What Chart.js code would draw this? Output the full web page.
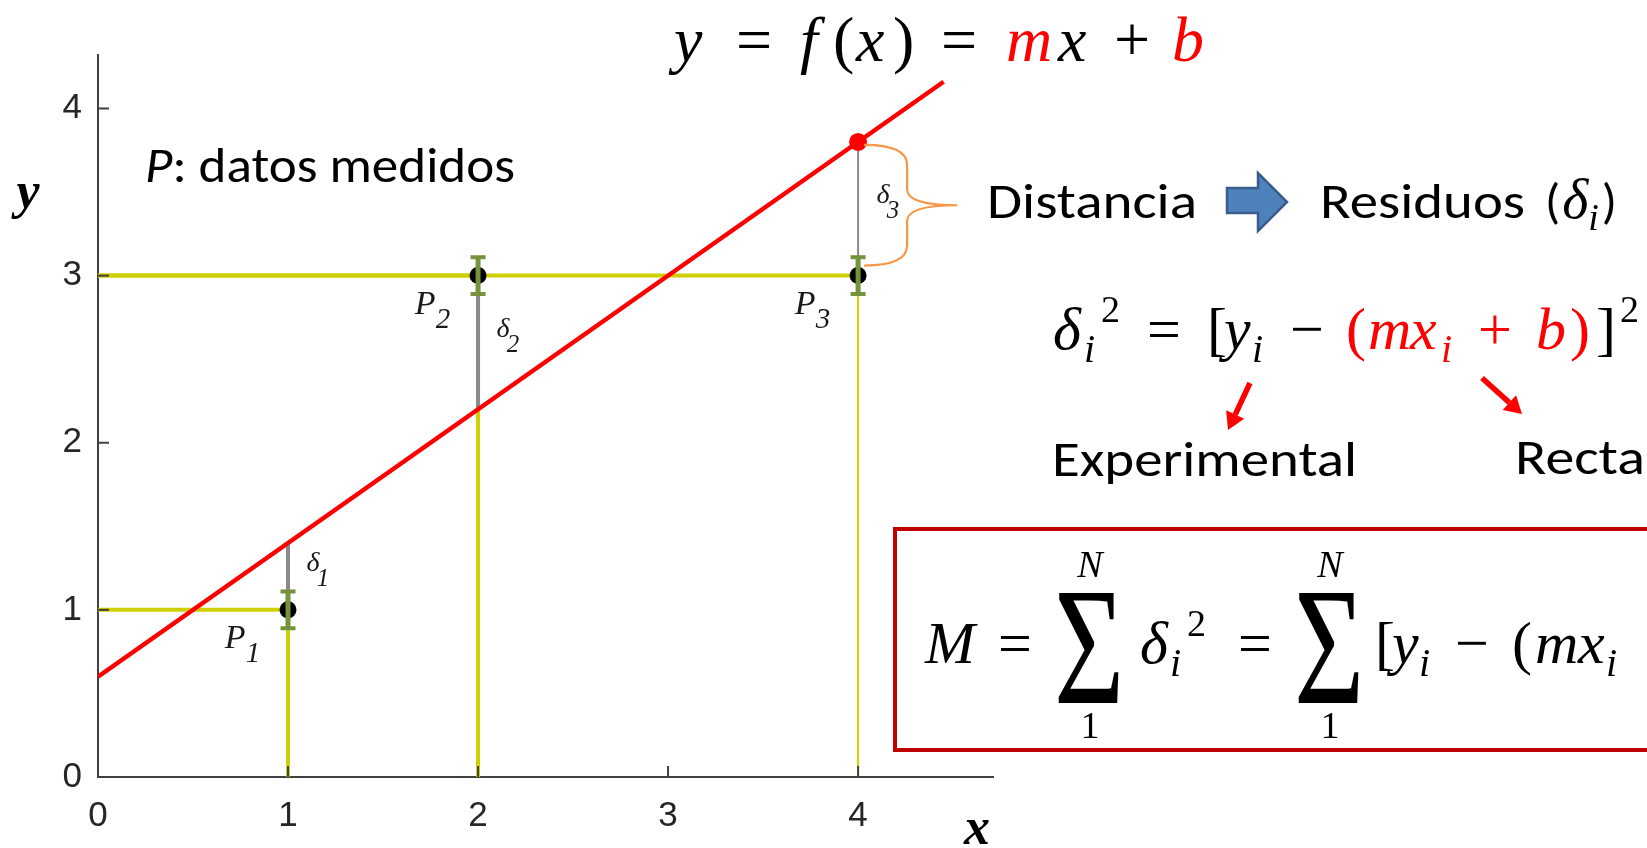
<!DOCTYPE html>
<html lang="es">
<head>
<meta charset="utf-8">
<title>Ajuste por mínimos cuadrados</title>
<script src="https://cdn.jsdelivr.net/npm/chart.js@4/dist/chart.umd.min.js"></script>
<style>
  body { margin: 0; background: #fff; }
  #lienzo { position: relative; width: 1647px; height: 848px; overflow: hidden; }
  #grafica, #notas { position: absolute; left: 0; top: 0; }
  #notas { pointer-events: none; }
  .mat { font-family: 'Liberation Serif', 'Times New Roman', serif; }
  .cal { font-family: Carlito, Calibri, Lato, sans-serif; }
  .it { font-style: italic; }
</style>
</head>
<body>
<div id="lienzo">
  <canvas id="grafica" width="1647" height="848"></canvas>
  <svg id="notas" width="1647" height="848" xmlns="http://www.w3.org/2000/svg">
    <!-- etiquetas de los ejes -->
    <text class="mat" x="28" y="208" font-size="52" font-weight="bold" font-style="italic" text-anchor="middle">y</text>
    <text class="mat" x="977" y="844" font-size="52" font-weight="bold" font-style="italic" text-anchor="middle">x</text>

    <!-- y = f(x) = mx + b -->
    <g class="mat" font-size="64">
      <text x="674" y="61" class="it">y</text>
      <text x="736" y="61">=</text>
      <text x="800" y="61" class="it">f</text>
      <text x="833" y="61">(</text>
      <text x="856" y="61" class="it">x</text>
      <text x="893" y="61">)</text>
      <text x="941" y="61">=</text>
      <text x="1006" y="61" class="it" fill="#ff0000">m</text>
      <text x="1058" y="61" class="it">x</text>
      <text x="1114" y="61">+</text>
      <text x="1172" y="61" class="it" fill="#ff0000">b</text>
    </g>

    <text class="cal" x="145" y="182" font-size="50" textLength="370" lengthAdjust="spacingAndGlyphs"><tspan class="it">P</tspan>: datos medidos</text>

    <text class="cal" x="987" y="218" font-size="50" textLength="210" lengthAdjust="spacingAndGlyphs">Distancia</text>
    <polygon points="1227,188 1258,188 1258,173 1287,202 1258,231 1258,213 1227,213" fill="#4f81bd" stroke="#385d8a" stroke-width="2.5"/>
    <text class="cal" x="1320" y="218" font-size="50" textLength="205" lengthAdjust="spacingAndGlyphs">Residuos</text>
    <text class="cal" x="1545" y="218" font-size="50">(<tspan class="mat it" font-size="56" dx="2">δ</tspan><tspan class="mat it" font-size="38" dy="12">i</tspan><tspan dy="-12" dx="3">)</tspan></text>

    <!-- δi² = [yi − (mxi + b)]² -->
    <g class="mat" font-size="60">
      <text x="1053" y="349" class="it">δ</text>
      <text x="1084" y="362" class="it" font-size="40">i</text>
      <text x="1101" y="322" font-size="38">2</text>
      <text x="1147" y="349">=</text>
      <text x="1207" y="349">[</text>
      <text x="1224" y="349" class="it">y</text>
      <text x="1252" y="362" class="it" font-size="40">i</text>
      <text x="1290" y="349">−</text>
      <text x="1346" y="349" fill="#ff0000">(</text>
      <text x="1368" y="349" class="it" fill="#ff0000">m</text>
      <text x="1410" y="349" class="it" fill="#ff0000">x</text>
      <text x="1441" y="362" class="it" font-size="40" fill="#ff0000">i</text>
      <text x="1478" y="349" fill="#ff0000">+</text>
      <text x="1536" y="349" class="it" fill="#ff0000">b</text>
      <text x="1570" y="349" fill="#ff0000">)</text>
      <text x="1596" y="349">]</text>
      <text x="1620" y="322" font-size="38">2</text>
    </g>
    <g id="flechas"></g>
    <text class="cal" x="1052" y="476" font-size="50" textLength="305" lengthAdjust="spacingAndGlyphs">Experimental</text>
    <text class="cal" x="1515" y="474" font-size="50" textLength="130" lengthAdjust="spacingAndGlyphs">Recta</text>

    <!-- recuadro con la suma de residuos -->
    <rect x="895" y="529" width="820" height="221" fill="none" stroke="#c00000" stroke-width="4"/>
    <g class="mat" font-size="60">
      <text x="925" y="663" class="it">M</text>
      <text x="998" y="663">=</text>
      <text x="1090" y="577" class="it" font-size="38" text-anchor="middle">N</text>
      <text transform="translate(1054,703) scale(0.72,1)" font-size="168">Σ</text>
      <text x="1090" y="738" font-size="38" text-anchor="middle">1</text>
      <text x="1140" y="663" class="it">δ</text>
      <text x="1170" y="676" class="it" font-size="40">i</text>
      <text x="1187" y="636" font-size="38">2</text>
      <text x="1238" y="663">=</text>
      <text x="1330" y="577" class="it" font-size="38" text-anchor="middle">N</text>
      <text transform="translate(1294,703) scale(0.72,1)" font-size="168">Σ</text>
      <text x="1330" y="738" font-size="38" text-anchor="middle">1</text>
      <text x="1375" y="663">[</text>
      <text x="1392" y="663" class="it">y</text>
      <text x="1419" y="676" class="it" font-size="40">i</text>
      <text x="1455" y="663">−</text>
      <text x="1512" y="663">(</text>
      <text x="1535" y="663" class="it">m</text>
      <text x="1578" y="663" class="it">x</text>
      <text x="1606" y="676" class="it" font-size="40">i</text>
    </g>
  </svg>
</div>

<script>
// puntos medidos P1, P2, P3
const puntosX = [1, 2, 4];
const puntosY = [1, 3, 3];
const errorY = [0.11, 0.11, 0.11];
const nombres = ['1', '2', '3'];

// recta y = m x + b
const pendiente = 0.8;
const ordenada = 0.6;
const rectaX = [0, 4.45];

const ticksX = [0, 1, 2, 3, 4];
const ticksY = [0, 1, 2, 3, 4];

const recta = x => pendiente * x + ordenada;

const amarillo = '#d0d000';
const gris = '#8a8a8a';
const verde = '#76923c';
const grosor = [4, 4, 2];

const datasets = [];
puntosX.forEach((x, i) => {
    const y = puntosY[i];
    datasets.push({ data: [{ x: 0, y }, { x, y }], borderColor: amarillo, borderWidth: 4, order: 6 });
    datasets.push({ data: [{ x, y: 0 }, { x, y }], borderColor: amarillo, borderWidth: grosor[i], order: 6 });
    datasets.push({ data: [{ x, y }, { x, y: recta(x) }], borderColor: gris, borderWidth: grosor[i], order: 5 });
});
datasets.push({
    data: rectaX.map(x => ({ x, y: recta(x) })),
    borderColor: '#ff0000', borderWidth: 4.5, order: 4
});
datasets.push({
    data: puntosX.map((x, i) => ({ x, y: puntosY[i] })),
    showLine: false, pointRadius: 8.5, pointBackgroundColor: '#000', pointBorderWidth: 0, order: 2
});
// valor de la recta en el ultimo punto
datasets.push({
    data: [{ x: puntosX[2], y: recta(puntosX[2]) }],
    showLine: false, pointRadius: 9, pointBackgroundColor: '#ff0000', pointBorderWidth: 0, order: 1
});
datasets.forEach(ds => {
    if (ds.showLine !== false) { ds.showLine = true; ds.pointRadius = 0; }
});

function linea(ctx, x1, y1, x2, y2) {
    ctx.beginPath();
    ctx.moveTo(x1, y1);
    ctx.lineTo(x2, y2);
    ctx.stroke();
}

// marcas de los ejes hacia dentro, estilo matlab
const marcasEjes = {
    id: 'marcasEjes',
    afterDraw(chart) {
        const { ctx, chartArea: a, scales: { x: ex, y: ey } } = chart;
        ctx.save();
        ctx.strokeStyle = '#404040';
        ctx.lineWidth = 2;
        ticksX.slice(1).forEach(v => {
            const px = ex.getPixelForValue(v);
            linea(ctx, px, a.bottom, px, a.bottom - 11);
        });
        ticksY.slice(1).forEach(v => {
            const py = ey.getPixelForValue(v);
            linea(ctx, a.left, py, a.left + 11, py);
        });
        ctx.restore();
    }
};

const barrasError = {
    id: 'barrasError',
    afterDatasetsDraw(chart) {
        const { ctx, scales: { x: ex, y: ey } } = chart;
        ctx.save();
        ctx.strokeStyle = verde;
        puntosX.forEach((x, i) => {
            const px = ex.getPixelForValue(x);
            const arriba = ey.getPixelForValue(puntosY[i] + errorY[i]);
            const abajo = ey.getPixelForValue(puntosY[i] - errorY[i]);
            ctx.lineWidth = 5;
            linea(ctx, px, arriba, px, abajo);
            ctx.lineWidth = 4;
            linea(ctx, px - 7.5, arriba, px + 7.5, arriba);
            linea(ctx, px - 7.5, abajo, px + 7.5, abajo);
        });
        ctx.restore();
    }
};

// rotulos P_i, delta_i y la llave del ultimo residuo
const rotulos = {
    id: 'rotulos',
    afterDatasetsDraw(chart) {
        const { ctx, scales: { x: ex, y: ey } } = chart;
        ctx.save();
        ctx.fillStyle = '#1a1a1a';
        ctx.textAlign = 'center';
        ctx.textBaseline = 'middle';
        puntosX.forEach((x, i) => {
            const px = ex.getPixelForValue(x);
            const py = ey.getPixelForValue(puntosY[i]);
            const pm = ey.getPixelForValue((puntosY[i] + recta(x)) / 2);
            ctx.font = 'italic 34px "Liberation Serif"';
            ctx.fillText('P', px - 53, py + 29);
            ctx.font = 'italic 29px "Liberation Serif"';
            ctx.fillText(nombres[i], px - 35, py + 45);
            ctx.font = 'italic 28px "Liberation Serif"';
            ctx.fillText('δ', px + 25, pm - 13);
            ctx.font = 'italic 25px "Liberation Serif"';
            ctx.fillText(nombres[i], px + 35, pm + 3);
        });

        const px = ex.getPixelForValue(puntosX[2]);
        const yA = ey.getPixelForValue(recta(puntosX[2])) + 3;
        const yB = ey.getPixelForValue(puntosY[2]) - 10;
        const yM = (yA + yB) / 2;
        const x0 = px + 6, xs = px + 49, xp = px + 99;
        ctx.strokeStyle = '#f79646';
        ctx.lineWidth = 2.2;
        ctx.beginPath();
        ctx.moveTo(x0, yA);
        ctx.quadraticCurveTo(xs, yA, xs, yA + 20);
        ctx.lineTo(xs, yM - 16);
        ctx.quadraticCurveTo(xs, yM, xp, yM);
        ctx.quadraticCurveTo(xs, yM, xs, yM + 16);
        ctx.lineTo(xs, yB - 20);
        ctx.quadraticCurveTo(xs, yB, x0, yB);
        ctx.stroke();
        ctx.restore();
    }
};

const fuenteTicks = { family: '"Liberation Sans", Arial, sans-serif', size: 35 };

new Chart(document.getElementById('grafica'), {
    type: 'scatter',
    data: { datasets },
    options: {
        responsive: false,
        animation: false,
        events: [],
        layout: { padding: { left: 0, top: 55, right: 654, bottom: 0 } },
        plugins: { legend: { display: false }, tooltip: { enabled: false } },
        elements: { line: { borderCapStyle: 'butt', tension: 0 } },
        scales: {
            x: {
                type: 'linear', min: 0, max: 4.71,
                afterBuildTicks: s => { s.ticks = ticksX.map(v => ({ value: v })); },
                afterFit: s => { s.height = 71; },
                grid: { display: false, drawTicks: false },
                border: { display: true, color: '#404040', width: 2 },
                ticks: { font: fuenteTicks, color: '#262626', padding: 18, maxRotation: 0 }
            },
            y: {
                type: 'linear', min: 0, max: 4.32,
                afterBuildTicks: s => { s.ticks = ticksY.map(v => ({ value: v })); },
                afterFit: s => { s.width = 98; },
                grid: { display: false, drawTicks: false },
                border: { display: true, color: '#404040', width: 2 },
                ticks: { font: fuenteTicks, color: '#262626', padding: 16 }
            }
        }
    },
    plugins: [marcasEjes, barrasError, rotulos]
});

// flechas rojas bajo la formula del residuo
function flecha(x1, y1, x2, y2) {
    const g = document.getElementById('flechas');
    const ns = 'http://www.w3.org/2000/svg';
    const dx = x2 - x1, dy = y2 - y1, l = Math.hypot(dx, dy);
    const ux = dx / l, uy = dy / l;
    const bx = x2 - ux * 17, by = y2 - uy * 17;
    const ln = document.createElementNS(ns, 'line');
    ln.setAttribute('x1', x1); ln.setAttribute('y1', y1);
    ln.setAttribute('x2', bx); ln.setAttribute('y2', by);
    ln.setAttribute('stroke', '#ff0000'); ln.setAttribute('stroke-width', 5.5);
    g.appendChild(ln);
    const p = document.createElementNS(ns, 'polygon');
    p.setAttribute('points', `${x2},${y2} ${bx - uy * 10},${by + ux * 10} ${bx + uy * 10},${by - ux * 10}`);
    p.setAttribute('fill', '#ff0000');
    g.appendChild(p);
}
flecha(1250, 383, 1228, 430);
flecha(1482, 378, 1522, 414);
</script>
</body>
</html>
